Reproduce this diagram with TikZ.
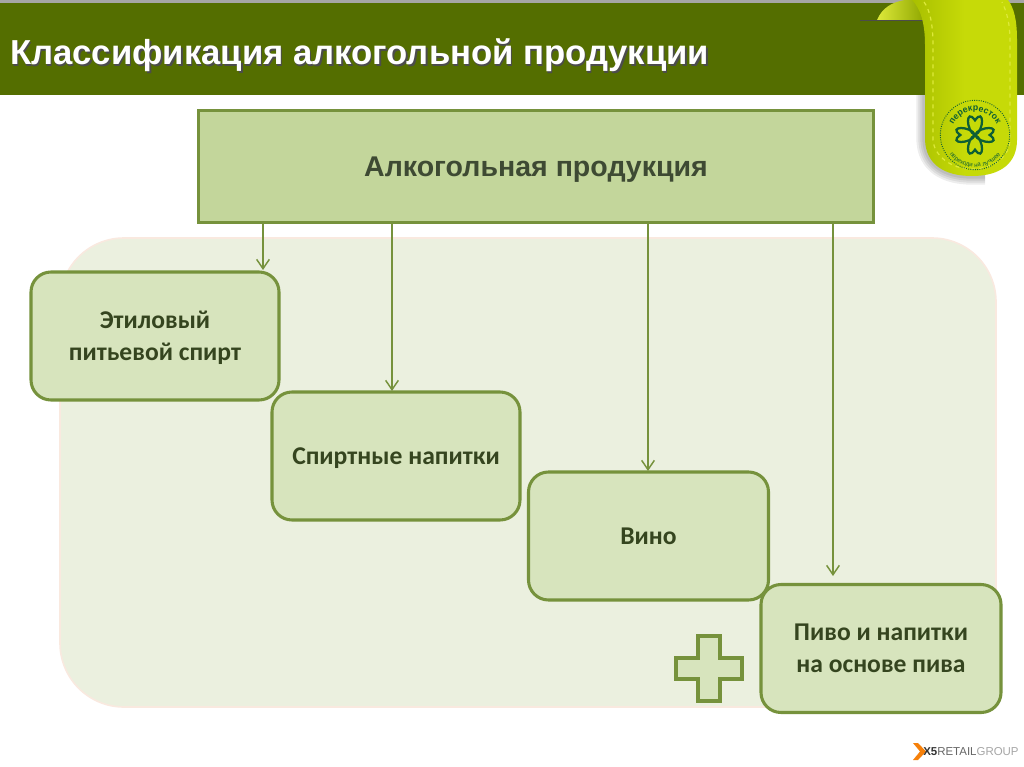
\documentclass[tikz,border=0pt]{standalone}
\usepackage{fontspec}
\setmainfont{Liberation Sans}
\newfontfamily\carl{Carlito}
\usetikzlibrary{arrows.meta,decorations.text,calc}
\definecolor{band}{HTML}{546E00}
\definecolor{edge}{HTML}{76923C}
\definecolor{rootfill}{HTML}{C3D69B}
\definecolor{boxfill}{HTML}{D7E4BD}
\definecolor{panel}{HTML}{EBF0DF}
\definecolor{panelrim}{HTML}{F9E9DF}
\definecolor{txt}{HTML}{35451F}
\definecolor{roottxt}{HTML}{3E4A33}
\definecolor{lime}{HTML}{C6DA08}
\definecolor{limedark}{HTML}{A9C000}
\definecolor{limelight}{HTML}{DDE93A}
\definecolor{logo}{HTML}{0E5F35}
\tikzset{
  x=0.75pt,y=-0.75pt,
  catbox/.style={draw=edge,line width=2.3pt,fill=boxfill,rounded corners=15pt,align=center,text=txt,
     font=\carl\fontsize{19.2pt}{24pt}\selectfont\bfseries,inner sep=0pt,text depth=0pt},
  rootbox/.style={draw=edge,line width=2.2pt,fill=rootfill,text=roottxt,inner sep=0pt,text depth=0pt,
     font=\fontsize{21.4pt}{25pt}\selectfont\bfseries},
  feed/.style={draw=edge,line width=1.1pt,-{Straight Barb[length=7pt,width=9.5pt]}},
  heading/.style={anchor=west,inner sep=0pt,font=\fontsize{26pt}{30pt}\selectfont\bfseries},
  ribbonshadow/.style={black,opacity=0.07},
}
\begin{document}
\begin{tikzpicture}
\useasboundingbox (0,0) rectangle (1024,767);
\fill[white] (0,0) rectangle (1024,767);
% top band
\fill[gray!70] (0,0) rectangle (1024,3);
\fill[band] (0,3) rectangle (1024,95);
% title
\node[heading,text=black!70] at (11.5,57) {Классификация алкогольной продукции};
\node[heading,text=white] (title) at (10,55.5) {Классификация алкогольной продукции};
% panel
\fill[panel,draw=panelrim,line width=1.2pt,rounded corners=48pt] (60,238) rectangle (996,707);
% boxes
\node[rootbox,minimum width=506pt,minimum height=84pt] (root) at (536,166.5) {Алкогольная продукция};
\node[catbox,minimum width=186pt,minimum height=96pt] (e1) at (155,336) {Этиловый\\питьевой спирт};
\node[catbox,minimum width=186pt,minimum height=96pt] (e2) at (396,456) {Спиртные напитки};
\node[catbox,minimum width=180pt,minimum height=96pt] (e3) at (648.5,536) {Вино};
\node[catbox,minimum width=180pt,minimum height=96pt] (e4) at (881,648.5) {Пиво и напитки\\на основе пива};
% arrows
\coordinate (a1) at (263,270);
\coordinate (a2) at (392,391);
\coordinate (a3) at (648,471);
\coordinate (a4) at (833,576);
\draw[feed] (root.south -| a1) -- (a1);
\draw[feed] (root.south -| a2) -- (a2);
\draw[feed] (root.south -| a3) -- (a3);
\draw[feed] (root.south -| a4) -- (a4);
% plus
\draw[draw=edge,line width=2.4pt,fill=boxfill] (698,636) -- (720,636) -- (720,658) -- (742,658) -- (742,679) -- (720,679) -- (720,701) -- (698,701) -- (698,679) -- (676,679) -- (676,658) -- (698,658) -- cycle;
% ribbon: back fold
\draw[black!70,line width=0.8pt] (860,20.5) -- (925,20.5);
\shade[left color=limelight,right color=limedark!70!band] (877,20) .. controls (882,8) and (892,2) .. (905,0) -- (915,0) .. controls (920,6) and (923,13) .. (924,20) -- cycle;
% ribbon shadow
\begin{scope}
\clip (900,96) rectangle (1024,190);
\foreach \w in {13pt,10pt,7pt,4pt}
  \draw[ribbonshadow,line width=\w] (925,90) -- (925,140) .. controls (926,165) and (945,176) .. (972,176) -- (985,176);
\end{scope}
% ribbon body
\shade[left color=limedark,right color=lime,middle color=lime] (912,0) -- (1008,0) .. controls (1014,8) and (1017,20) .. (1017,40) -- (1017,140)
   .. controls (1017,162) and (1002,176) .. (972,176)
   .. controls (945,176) and (926,165) .. (925,140) -- (925,45)
   .. controls (925,22) and (920,8) .. (912,0) -- cycle;
\draw[limelight,line width=0.9pt,dashed] (924,2) .. controls (930,10) and (933,25) .. (933,45) -- (933,140)
   .. controls (934,155) and (950,169) .. (972,169)
   .. controls (995,169) and (1010,155) .. (1010,140) -- (1010,40) .. controls (1010,25) and (1007,12) .. (1002,2);
% logo
\coordinate (c) at (975,135);
\draw[logo,line width=0.7pt,densely dotted] (c) circle[radius=26pt];
\path[decorate,decoration={text along path,text align=center,
   text={|\fontsize{6.6pt}{7pt}\selectfont\bfseries\color{logo}|перекресток}}]
   (c) ++(165:18pt) arc[start angle=165,end angle=15,radius=18pt];
\path[decorate,decoration={text along path,text align=center,
   text={|\fontsize{4.6pt}{5pt}\selectfont\color{logo}|переходи на лучшее}}]
   (c) ++(195:24pt) arc[start angle=195,end angle=345,radius=24pt];
\foreach \a in {0,90,180,270}
  \draw[logo,line width=1.7pt,rotate around={\a:(c)}] (c) .. controls +(-7pt,3pt) and +(-7pt,10pt) .. +(0,11pt) .. controls +(7pt,10pt) and +(7pt,3pt) .. (c);
% x5 logo
\fill[orange!85!brown] (913,743) -- (918,743) -- (926,751.5) -- (918,760) -- (913,760) -- (920,751.5) -- cycle;
\node[anchor=west,inner sep=0pt,font=\fontsize{8.6pt}{9pt}\selectfont\bfseries,text=black!80] (x5) at (923,752) {X5\textcolor{black!60}{\mdseries RETAIL}\textcolor{black!35}{\mdseries GROUP}};
\end{tikzpicture}
\end{document}
